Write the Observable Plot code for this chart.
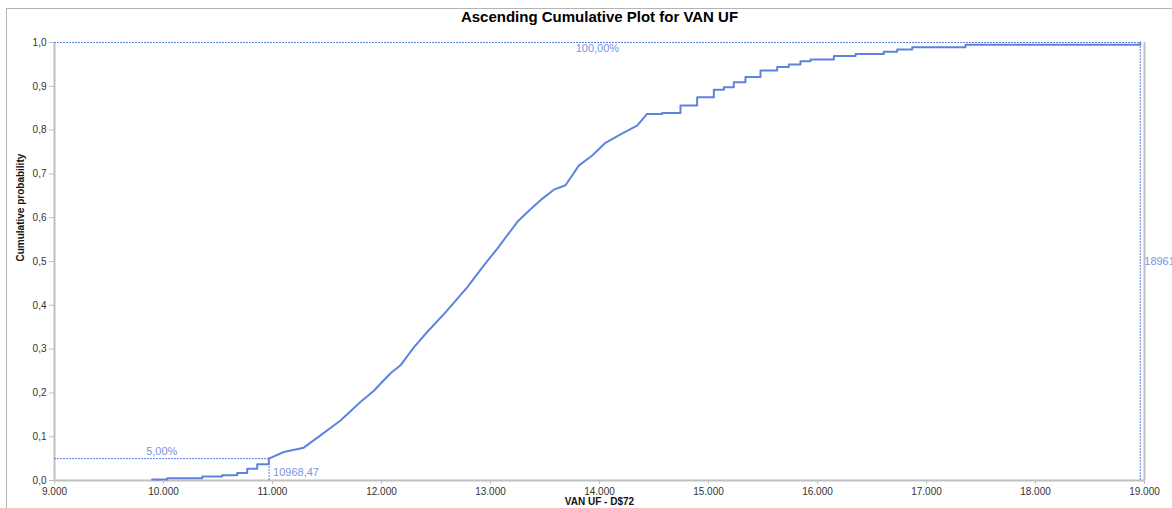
<!DOCTYPE html>
<html>
<head>
<meta charset="utf-8">
<script src="https://cdn.jsdelivr.net/npm/d3@7"></script>
<script src="https://cdn.jsdelivr.net/npm/@observablehq/plot@0.6"></script>
<style>
  html, body { margin: 0; padding: 0; background: white; overflow: hidden; }
  #wrap { position: relative; width: 1172px; height: 508px; }
  #border { position: absolute; left: 6px; top: 8px; width: 1200px; height: 600px;
            border-top: 1.5px solid #b4b4b4; border-left: 1.5px solid #b4b4b4; pointer-events: none; }
</style>
</head>
<body>
<div id="wrap"><div id="border"></div></div>
<script>
const title = "Ascending Cumulative Plot for VAN UF";
const xLabel = "VAN UF - D$72";
const yLabel = "Cumulative probability";
const xTicks = [9000, 10000, 11000, 12000, 13000, 14000, 15000, 16000, 17000, 18000, 19000];
const yTicks = [0, 0.1, 0.2, 0.3, 0.4, 0.5, 0.6, 0.7, 0.8, 0.9, 1.0];

const cdfX = [9896, 10034, 10355, 10538, 10676, 10768, 10860, 10966, 11104, 11287, 11440, 11624, 11807, 11930, 12083, 12174, 12297, 12419, 12587, 12786, 12939, 13061, 13245, 13352, 13474, 13581, 13688, 13810, 13933, 14055, 14193, 14345, 14437, 14575, 14743, 14896, 15049, 15141, 15232, 15339, 15477, 15630, 15737, 15844, 15936, 16150, 16349, 16608, 16731, 16869, 17358, 18961];
const cdfP = [0.002, 0.005, 0.009, 0.012, 0.017, 0.027, 0.037, 0.050, 0.065, 0.075, 0.103, 0.137, 0.179, 0.205, 0.245, 0.263, 0.304, 0.339, 0.384, 0.441, 0.491, 0.529, 0.590, 0.616, 0.643, 0.664, 0.674, 0.719, 0.742, 0.771, 0.790, 0.810, 0.837, 0.839, 0.856, 0.875, 0.892, 0.898, 0.909, 0.921, 0.936, 0.944, 0.950, 0.957, 0.961, 0.969, 0.974, 0.979, 0.984, 0.989, 0.995, 1.0];

// markers
const lowX = 10968.47, lowP = 0.05, lowLabel = "5,00%", lowXLabel = "10968,47";
const highX = 18961.18, highP = 1.0, highLabel = "100,00%", highXLabel = "18961,18";
const xMin = 9000, xMax = 19000;

const loc = d3.formatLocale({decimal: ",", thousands: ".", grouping: [3], currency: ["$", ""]});
const fmtX = loc.format(",.0f");
const fmtY = loc.format(".1f");

const pts = cdfX.map((x, i) => ({x, p: cdfP[i]}));
const lower = pts.filter(d => d.x <= 10966);
const middle = pts.filter(d => d.x >= 10966 && d.x <= 14437);
const upper = pts.filter(d => d.x >= 14437);

const blue = "#5f82dc";
const labelBlue = "#7a94e0";
const grey = "#c0c0c0";
const font = "'Liberation Sans', Arial, sans-serif";

const chart = Plot.plot({
  width: 1172,
  height: 508,
  marginLeft: 54,
  marginRight: 28,
  marginTop: 42,
  marginBottom: 28,
  style: {fontFamily: font, fontSize: "10px", color: "#333", background: "transparent"},
  x: {domain: [xMin, xMax]},
  y: {domain: [0, 1]},
  marks: [
    // frame lines
    Plot.ruleX([xMin, xMax], {stroke: grey, strokeWidth: 2}),
    Plot.ruleY([0], {stroke: grey, strokeWidth: 2}),
    // reference lines
    Plot.ruleY([lowP], {x1: xMin, x2: lowX, stroke: blue, strokeWidth: 1, strokeDasharray: "2,1"}),
    Plot.ruleX([lowX], {y1: 0, y2: lowP, stroke: blue, strokeWidth: 1, strokeDasharray: "2,1"}),
    Plot.ruleY([highP], {x1: xMin, x2: highX, stroke: blue, strokeWidth: 1, strokeDasharray: "2,1"}),
    Plot.ruleX([highX], {y1: 0, y2: highP, stroke: blue, strokeWidth: 1, strokeDasharray: "2,1"}),
    // curve
    Plot.line(lower, {x: "x", y: "p", curve: "step-after", stroke: blue, strokeWidth: 2}),
    Plot.line(middle, {x: "x", y: "p", curve: "linear", stroke: blue, strokeWidth: 2}),
    Plot.line(upper, {x: "x", y: "p", curve: "step-after", stroke: blue, strokeWidth: 2}),
    // axes
    Plot.axisX(xTicks, {tickFormat: fmtX, tickSize: 4, tickPadding: 3, stroke: grey, fill: "#333", fontSize: 10, label: null}),
    Plot.axisY(yTicks, {tickFormat: fmtY, tickSize: 5, tickPadding: 3, stroke: grey, fill: "#333", fontSize: 10, label: null}),
    // marker labels
    Plot.text([lowLabel], {x: (xMin + lowX) / 2, y: lowP, lineAnchor: "bottom", dy: -4, fill: labelBlue, fontSize: 11}),
    Plot.text([lowXLabel], {x: lowX, y: 0, textAnchor: "start", lineAnchor: "bottom", dx: 4, dy: -5, fill: labelBlue, fontSize: 11}),
    Plot.text([highLabel], {x: (xMin + highX) / 2, y: highP, lineAnchor: "top", dy: 2, fill: labelBlue, fontSize: 11}),
    Plot.text([highXLabel], {x: highX, y: 0.5, textAnchor: "start", dx: 4, fill: labelBlue, fontSize: 11}),
    // titles
    Plot.text([title], {frameAnchor: "top", lineAnchor: "middle", dy: -25, fontSize: 15, fontWeight: "bold", fill: "#000"}),
    Plot.text([xLabel], {frameAnchor: "bottom", lineAnchor: "middle", dy: 21, fontSize: 10, fontWeight: "bold", fill: "#111"}),
    Plot.text([yLabel], {frameAnchor: "left", dx: -34, rotate: -90, fontSize: 10, fontWeight: "bold", fill: "#111"})
  ]
});
document.getElementById("wrap").prepend(chart);
</script>
</body>
</html>
